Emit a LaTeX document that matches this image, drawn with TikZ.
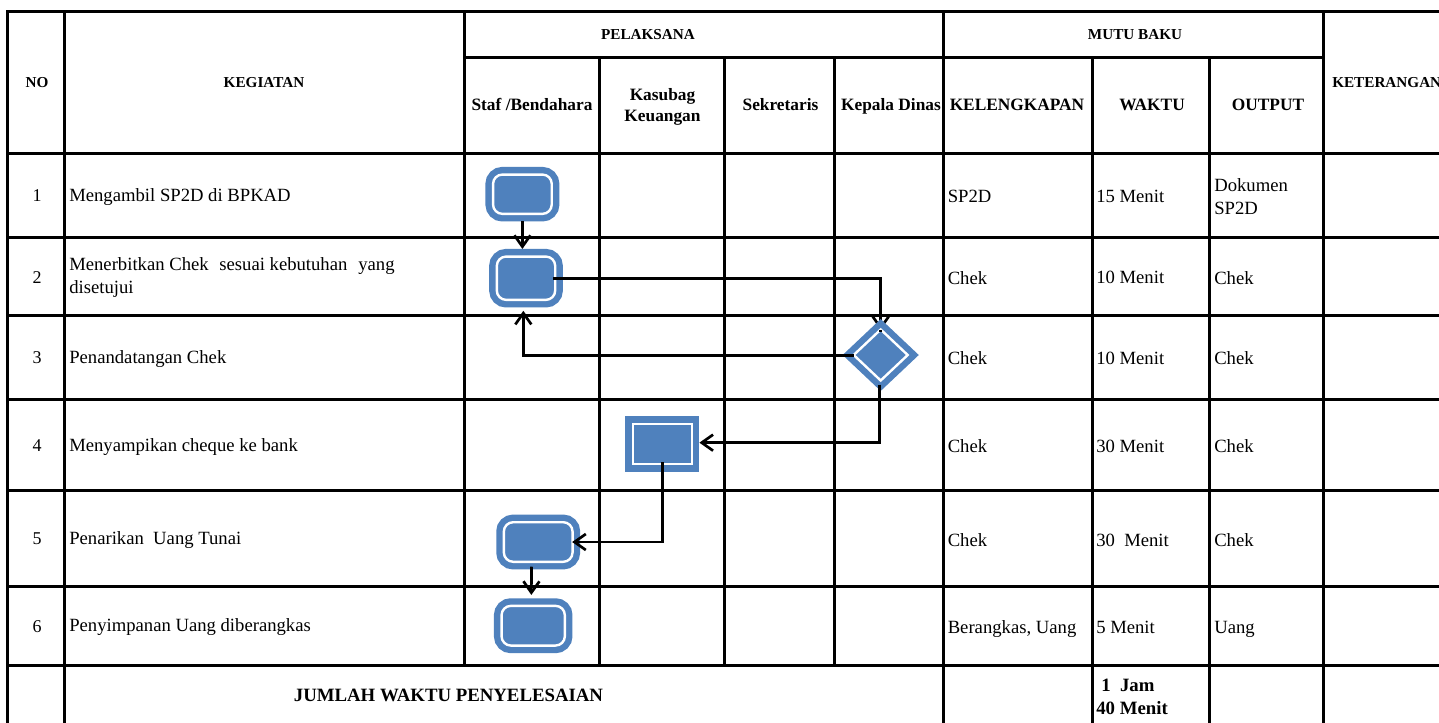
\documentclass[tikz,border=0pt]{standalone}
\usepackage{fontspec}
\setmainfont{Liberation Serif}
\usetikzlibrary{arrows.meta,shapes.geometric,calc}
\definecolor{flowblue}{HTML}{4F81BD}
\tikzset{
  gridline/.style={line width=2.3pt,black,line cap=rect},
  body/.style={anchor=base west,inner sep=0pt,font=\fontsize{14pt}{17pt}\selectfont},
  num/.style={anchor=base,inner sep=0pt,font=\fontsize{13.5pt}{17pt}\selectfont},
  head/.style={anchor=base,inner sep=0pt,align=center,font=\fontsize{11.4pt}{14pt}\selectfont\bfseries},
  headb/.style={anchor=base,inner sep=0pt,align=center,font=\fontsize{13pt}{15.75pt}\selectfont\bfseries},
  totals/.style={font=\fontsize{14.1pt}{17pt}\selectfont\bfseries},
  flowbase/.style={draw=flowblue,fill=flowblue,double=white,double distance=1.8pt,line width=4.8pt,inner sep=0pt},
  rbox/.style 2 args={flowbase,rectangle,rounded corners=7pt,minimum width=#1*0.75pt,minimum height=#2*0.75pt,outer sep=5.7pt},
  sbox/.style 2 args={flowbase,rectangle,minimum width=#1*0.75pt,minimum height=#2*0.75pt,outer sep=5.7pt},
  dbox/.style 2 args={flowbase,diamond,miter limit=10,minimum width=#1*0.75pt,minimum height=#2*0.75pt,outer sep=0pt},
  conn/.style={line width=2pt,black,-{Straight Barb[length=8.5pt,width=12pt]}},
  stub/.style={line width=2pt,black}
}
\begin{document}
\begin{tikzpicture}[x=0.75pt,y=-0.75pt]
\useasboundingbox (0,0) rectangle (1439,722);
\fill[white] (0,0) rectangle (1439,722);
% grid
\foreach \yy in {11.5,153.3,237.3,315.3,399.3,490.3,586.3,665.3}
  \draw[gridline] (7.3,\yy) -- (1439,\yy);
\draw[gridline] (464.5,57.3) -- (1323.3,57.3);
\foreach \xx in {7.3,64.3,943.7,1323.3}
  \draw[gridline] (\xx,11.5) -- (\xx,722);
\foreach \xx in {1092.3,1209.3}
  \draw[gridline] (\xx,57.3) -- (\xx,722);
\draw[gridline] (464.5,11.5) -- (464.5,665.3);
\foreach \xx in {599.3,724.3,834.7}
  \draw[gridline] (\xx,57.3) -- (\xx,665.3);
% nodes
\node[rbox={58.7}{39.3}] (b1) at (522.4,194.2) {};
\node[rbox={58.4}{43.3}] (b2) at (526,278.2) {};
\node[sbox={59}{40.4}] (r4) at (662.3,444) {};
\node[rbox={68.7}{39.6}] (b5) at (538.2,542) {};
\node[rbox={63.3}{39.7}] (b6) at (533.2,625.7) {};
% connector hidden under the diamond
\node[dbox={54}{51},draw=none,fill=none,double=none] (dref) at (880.7,355) {};
\draw[conn] ([xshift=-7.2pt]b2.east) -| ([yshift=-0.5pt]dref.north);
\node[dbox={54}{51}] (d) at (880.7,355) {};
\draw[stub] (d.north) -- ++(0,2);
\draw[conn] (b1.south) -- (b1.south |- b2.north);
\draw[conn] ([yshift=-0.25pt]d.west) -| ([xshift=-2pt,yshift=-2.5pt]b2.south);
\draw[conn] ([xshift=-1pt,yshift=-3pt]d.south) |- ([yshift=1pt]r4.east);
\draw[conn] ([yshift=7pt]r4.south) |- ([xshift=-6pt]b5.east);
\draw[conn] ([xshift=-5pt,yshift=2pt]b5.south) -- ([xshift=-1.4pt,yshift=2.5pt]b6.north);
% header
\node[head] (tno) at (37,87) {NO};
\node[head] (tkeg) at (264,87) {KEGIATAN};
\node[head] (tpel) at (648,39) {PELAKSANA};
\node[head] (tmut) at (1135,39) {MUTU BAKU};
\node[headb] (tstaf) at (532,110.5) {Staf /Bendahara};
\node[headb] (tkas) at (662.5,121) {Kasubag\\[0pt]Keuangan};
\node[headb] (tsek) at (780.5,110.5) {Sekretaris};
\node[headb] (tkep) at (891,110.5) {Kepala Dinas};
\node[headb] (tkel) at (1017,110.5) {KELENGKAPAN};
\node[headb] (twak) at (1152,110.5) {WAKTU};
\node[headb] (tout) at (1268,110.5) {OUTPUT};
\node[head,anchor=base west] (tket) at (1332,87) {KETERANGAN};
% numbers
\node[num] (n1) at (37,201) {1};
\node[num] (n2) at (37,283) {2};
\node[num] (n3) at (37,363) {3};
\node[num] (n4) at (37,451) {4};
\node[num] (n5) at (37,544) {5};
\node[num] (n6) at (37,632) {6};
% activities
\node[body] (a1) at (69,201) {Mengambil SP2D di BPKAD};
\node[body] (a2) at (69,270) {Menerbitkan Chek\ \ \hspace{1pt}sesuai kebutuhan\ \ \hspace{1.2pt}yang};
\node[body] (a2b) at (69,293) {disetujui};
\node[body] (a3) at (69,363) {Penandatangan Chek};
\node[body] (a4) at (69,451) {Menyampikan cheque ke bank};
\node[body] (a5) at (69,544) {Penarikan\ \ Uang Tunai};
\node[body] (a6) at (69,631) {Penyimpanan Uang diberangkas};
% kelengkapan
\node[body] (k1) at (947.5,202) {SP2D};
\node[body] (k2) at (947.5,284) {Chek};
\node[body] (k3) at (947.5,364) {Chek};
\node[body] (k4) at (947.5,452) {Chek};
\node[body] (k5) at (947.5,546) {Chek};
\node[body] (k6) at (947.5,633) {Berangkas, Uang};
% waktu
\node[body] (w1) at (1096,202) {15 Menit};
\node[body] (w2) at (1096,283) {10 Menit};
\node[body] (w3) at (1096,364) {10 Menit};
\node[body] (w4) at (1096,452) {30 Menit};
\node[body] (w5) at (1096,546) {30\ \ Menit};
\node[body] (w6) at (1096,633) {5 Menit};
% output
\node[body] (o1) at (1214,191) {Dokumen};
\node[body] (o1b) at (1214,214) {SP2D};
\node[body] (o2) at (1214,284) {Chek};
\node[body] (o3) at (1214,364) {Chek};
\node[body] (o4) at (1214,452) {Chek};
\node[body] (o5) at (1214,546) {Chek};
\node[body] (o6) at (1214,633) {Uang};
% total
\node[headb,totals] (tot) at (448.5,701) {JUMLAH WAKTU PENYELESAIAN};
\node[body,totals] (s1) at (1101,691) {1\ \ Jam};
\node[body,totals] (s2) at (1096,714) {40 Menit};
\end{tikzpicture}
\end{document}
